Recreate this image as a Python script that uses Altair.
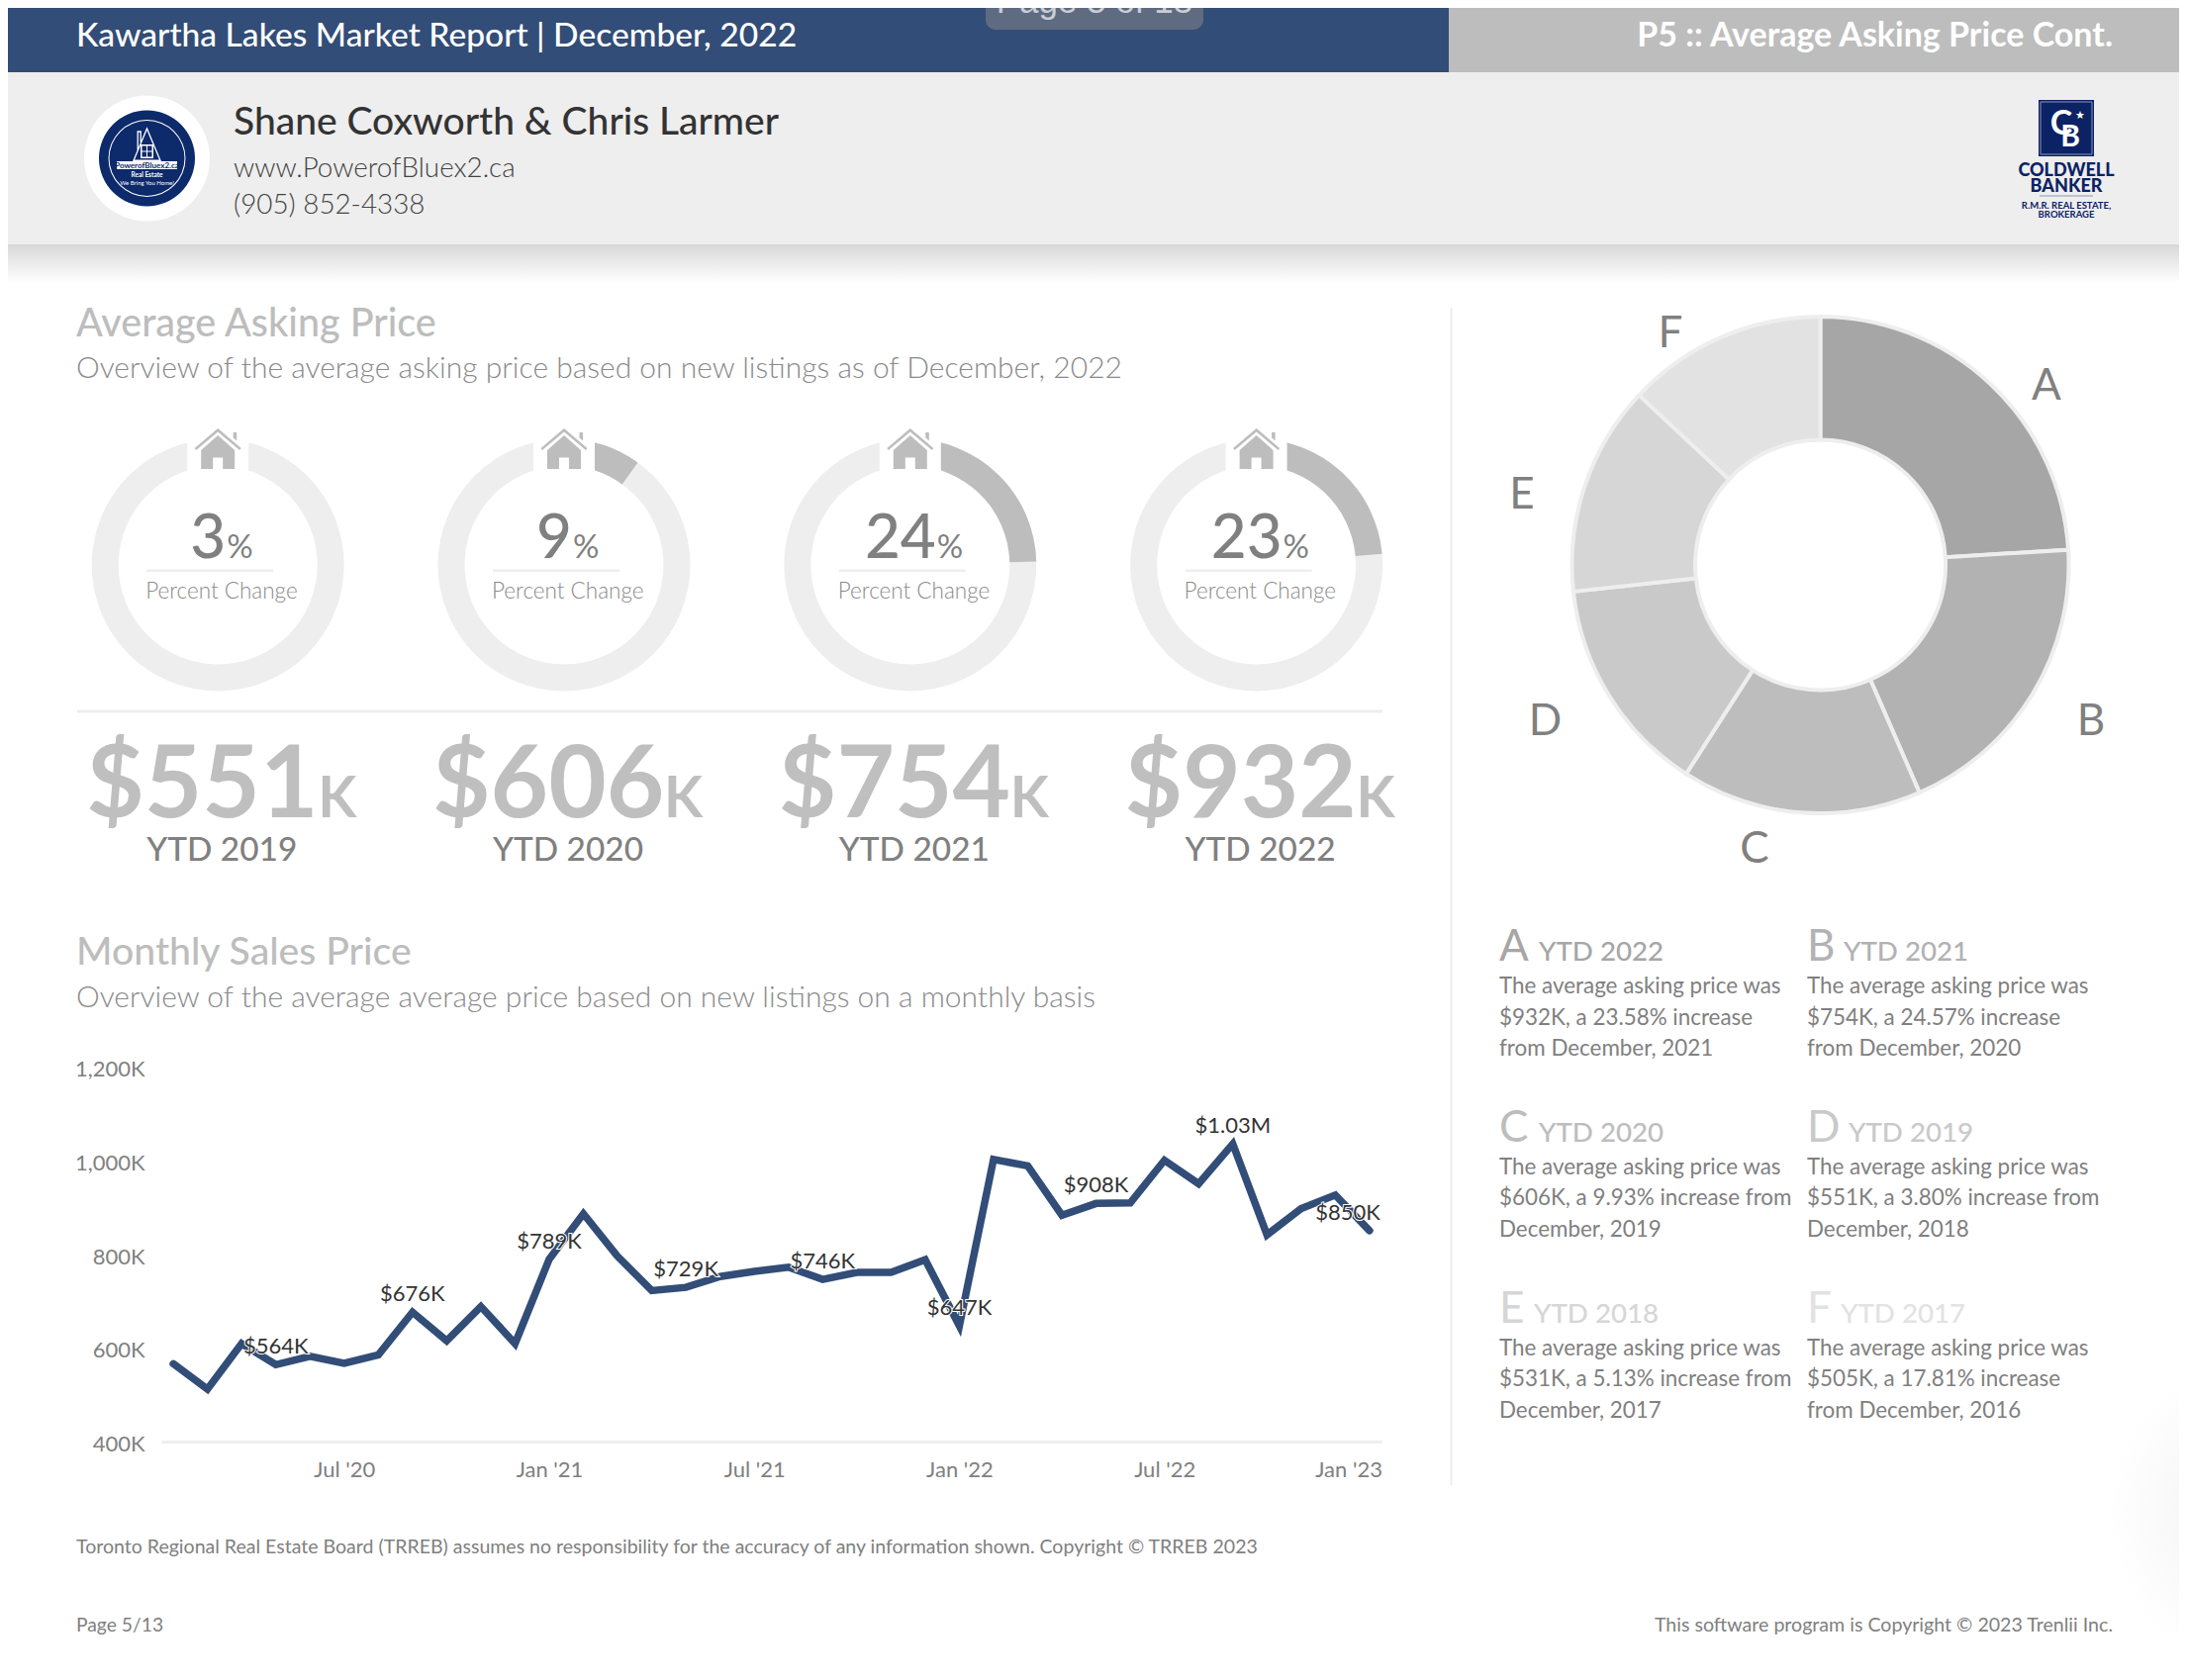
import altair as alt

W, H = 2194, 1682
FONT = "Lato"
NAVY = "#324d77"
GREY = "#808080"
LIGHT = "#eeeeee"
MID = "#bdbdbd"

# ---- data -------------------------------------------------------------
months = ["Feb '20","Mar '20","Apr '20","May '20","Jun '20","Jul '20","Aug '20","Sep '20","Oct '20","Nov '20","Dec '20",
          "Jan '21","Feb '21","Mar '21","Apr '21","May '21","Jun '21","Jul '21","Aug '21","Sep '21","Oct '21","Nov '21","Dec '21",
          "Jan '22","Feb '22","Mar '22","Apr '22","May '22","Jun '22","Jul '22","Aug '22","Sep '22","Oct '22","Nov '22","Dec '22",
          "Jan '23"]
monthly = [566,512,609,564,582,567,585,676,615,688,609,789,886,795,722,729,752,763,772,746,761,761,788,647,
           1002,988,883,908,909,1000,950,1035,841,897,926,850]
month_ticks = ["Jul '20","Jan '21","Jul '21","Jan '22","Jul '22","Jan '23"]
value_ticks = [400,600,800,1000,1200]
labelled = {"May '20":"$564K","Sep '20":"$676K","Jan '21":"$789K","May '21":"$729K","Sep '21":"$746K",
            "Jan '22":"$647K","May '22":"$908K","Sep '22":"$1.03M"}
last_label = {"Jan '23":"$850K"}

years = ["YTD 2019","YTD 2020","YTD 2021","YTD 2022"]
prices = ["$551","$606","$754","$932"]
changes = [3.80,9.93,24.57,23.58]
change_labels = ["3","9","24","23"]

slices = ["A","B","C","D","E","F"]
slice_values = [932,754,606,551,531,505]
slice_colors = ["#a6a6a6","#b2b2b2","#bdbdbd","#c9c9c9","#d6d6d6","#e2e2e2"]
slice_years = ["YTD 2022","YTD 2021","YTD 2020","YTD 2019","YTD 2018","YTD 2017"]
slice_text = [
    ["The average asking price was","$932K, a 23.58% increase","from December, 2021"],
    ["The average asking price was","$754K, a 24.57% increase","from December, 2020"],
    ["The average asking price was","$606K, a 9.93% increase from","December, 2019"],
    ["The average asking price was","$551K, a 3.80% increase from","December, 2018"],
    ["The average asking price was","$531K, a 5.13% increase from","December, 2017"],
    ["The average asking price was","$505K, a 17.81% increase","from December, 2016"],
]

# ---- helpers (coordinates below are reference pixels; page margin is 8) --
one = alt.Data(values=[{"k": 1}])
M = 8
layers = []

def T(x, y, s, size, color=GREY, align="left", weight=400, font=FONT, base="alphabetic", angle=None):
    kw = dict(font=font, fontSize=size, color=color, align=align, fontWeight=weight, baseline=base)
    if angle is not None:
        kw["angle"] = angle
    layers.append(alt.Chart(one).mark_text(**kw).encode(
        x=alt.value(x - M), y=alt.value(y - M), text=alt.value(s)))

def R(x1, y1, x2, y2, color, **kw):
    args = dict(kw)
    if isinstance(color, dict):
        args["fill"] = color
    else:
        args["color"] = color
    layers.append(alt.Chart(one).mark_rect(**args).encode(
        x=alt.value(x1 - M), x2=alt.value(x2 - M), y=alt.value(y1 - M), y2=alt.value(y2 - M)))

def disc(cx, cy, r, color, r0=0):
    layers.append(alt.Chart(one).mark_arc(color=color, radius=r, radius2=r0, theta=0, theta2=6.28319).encode(
        x=alt.value(cx - M), y=alt.value(cy - M)))

def shape(cx, cy, extent, path, fill=None, stroke=None, sw=1):
    kw = dict(shape=path, size=extent * extent, opacity=1)
    if fill:
        kw.update(filled=True, fill=fill, strokeOpacity=0)
    else:
        kw.update(filled=False, stroke=stroke, strokeWidth=sw, fillOpacity=0)
    layers.append(alt.Chart(one).mark_point(**kw).encode(x=alt.value(cx - M), y=alt.value(cy - M)))

def path(polys, s):
    out = []
    for poly in polys:
        out.append("M" + "L".join(f"{px / s:.3f},{py / s:.3f}" for px, py in poly) + "Z")
    return "".join(out)

# ---- page shadow at lower right ---------------------------------------------
R(2060, 1370, 2204, 1690, {"gradient": "radial", "x1": 1, "y1": 0.5, "r1": 0, "x2": 1, "y2": 0.5, "r2": 0.5,
                           "stops": [{"offset": 0, "color": "#eeeeee"}, {"offset": 0.45, "color": "#f6f6f6"},
                                     {"offset": 1, "color": "#ffffff"}]})

# ---- header ---------------------------------------------------------------
R(0, 0, 1464, 73, NAVY)
R(1464, 0, 2210, 73, MID)
R(996, 0, 1216, 30, "#5f6b80", cornerRadiusBottomLeft=10, cornerRadiusBottomRight=10)
T(1106, 13, "Page 5 of 13", 35, "#c9ced6", "center", font="Liberation Sans")
T(77, 47, "Kawartha Lakes Market Report | December, 2022", 33.6, "#ffffff", weight=500)
T(2135, 47, "P5 :: Average Asking Price Cont.", 34, "#ffffff", "right", weight=700)

R(0, 73, 2210, 247, LIGHT)
R(0, 247, 2210, 286, {"gradient": "linear", "x1": 0, "y1": 0, "x2": 0, "y2": 1,
                       "stops": [{"offset": 0, "color": "#d8d8d8"}, {"offset": 1, "color": "#ffffff"}]})

# agent logo
disc(148.5, 160, 63.5, "#ffffff")
disc(148.5, 160, 48.5, "#0d2a6b")
disc(148.5, 160, 39, "#ffffff", 38)
shape(148.5, 148, 30, "M0,-1.2L0.9,0.95L-0.9,0.95ZM-0.62,0.3L-0.62,-1L-0.42,-1L-0.42,-0.3", stroke="#ffffff", sw=1.3)
R(142, 146, 155, 160, "#ffffff")
R(143.5, 147.5, 148, 152.5, "#0d2a6b")
R(149, 147.5, 153.5, 152.5, "#0d2a6b")
R(143.5, 153.5, 148, 158.5, "#0d2a6b")
R(149, 153.5, 153.5, 158.5, "#0d2a6b")
R(118, 163, 179, 171, "#ffffff")
T(148.5, 170, "PowerofBluex2.ca", 8, "#0d2a6b", "center", 700)
T(148.5, 179, "Real Estate", 6.5, "#ffffff", "center", 700)
T(148.5, 187, "We Bring You Home!", 6, "#ffffff", "center")

T(236, 136, "Shane Coxworth & Chris Larmer", 39, "#333333", weight=500)
T(236, 179, "www.PowerofBluex2.ca", 27.8, "#444444", weight=300)
T(236, 216, "(905) 852-4338", 27.8, "#444444", weight=300)

# brokerage logo
R(2060, 101, 2116, 158, "#0b2265")
R(2062, 103, 2114, 156, "#0b2265", stroke="#8a96b8", strokeWidth=1)
T(2083, 136, "C", 34, "#ffffff", "center", 700)
T(2092, 148, "B", 30, "#ffffff", "center", 700)
T(2102, 120, "★", 11, "#ffffff", "center", font="DejaVu Sans")
T(2088, 178, "COLDWELL", 18, "#0b2265", "center", 900)
T(2088, 194, "BANKER", 18, "#0b2265", "center", 900)
R(2061, 197.5, 2115, 198.5, "#8a96b8")
T(2088, 211, "R.M.R. REAL ESTATE,", 9.5, "#0b2265", "center", 700)
T(2088, 220, "BROKERAGE", 9.5, "#0b2265", "center", 700)

# ---- section 1 -------------------------------------------------------------
T(77, 340, "Average Asking Price", 39.5, MID, weight=500)
T(77, 382, "Overview of the average asking price based on new listings as of December, 2022", 30, "#8a8a8a", weight=300)

house = path([
    [(0, -20.5), (23.5, -0.5), (22, 1.5), (0, -17), (-22, 1.5), (-23.5, -0.5)],
    [(0, -13.5), (17, 1.5), (17, 20.5), (5, 20.5), (5, 9), (-5, 9), (-5, 20.5), (-17, 20.5), (-17, 1.5)],
    [(15.5, -16.5), (19, -16.5), (19, -8), (15.5, -11)],
], 24)

for i, (yr, pr, ch, cl) in enumerate(zip(years, prices, changes, change_labels)):
    c = 220.2 + 349.8 * i
    cy = 571
    disc(c, cy, 127.5, LIGHT, 100.5)
    ring = alt.Data(values=[{"year": yr, "change": ch}])
    layers.append(alt.Chart(ring).mark_arc(color=MID, radius=127.5, radius2=100.5).encode(
        theta=alt.Theta("change:Q", scale=alt.Scale(domain=[0, 100], range=[0, 6.28319])),
        x=alt.value(c - M), y=alt.value(cy - M)))
    R(c - 31, 436, c + 31, 476, "#ffffff")
    shape(c, 453.5, 48, house, fill=MID)
    b = c + 8 + 18 * (len(cl) - 1)
    T(b, 564, cl, 62, GREY, "right", 500)
    T(b + 1, 564, "%", 33, GREY, "left", 400)
    R(c - 72, 575.5, c + 56, 578, LIGHT)
    T(c - 73, 605, "Percent Change", 22.5, "#8a8a8a", weight=300)
    T(c - 133, 826, pr, 101, "#bfbfbf", weight=700)
    T(c + 101, 826, "K", 57, "#bfbfbf", weight=700)
    T(c + 4, 870, yr, 33.4, GREY, "center", 500)

R(78, 717.5, 1397, 720.5, LIGHT)

# ---- section 2 -------------------------------------------------------------
T(77, 975, "Monthly Sales Price", 39.2, MID, weight=500)
T(77, 1018, "Overview of the average average price based on new listings on a monthly basis", 30, "#8a8a8a", weight=300)

X_RANGE = [163 - M, 1396 - M]
Y_RANGE = [1457 - M, 1078 - M]
xs = alt.Scale(type="point", domain=months, range=X_RANGE, padding=0.35)
ys = alt.Scale(domain=[400, 1200], range=Y_RANGE)

line_df = alt.Data(values=[{"m": m, "v": v} for m, v in zip(months, monthly)])
layers.append(alt.Chart(line_df).mark_line(color=NAVY, strokeWidth=7.5, strokeCap="round", strokeJoin="miter").encode(
    x=alt.X("m:N", scale=xs, sort=None, title=None, axis=alt.Axis(
        values=month_ticks, labelAngle=0, ticks=False, grid=False, domainColor=LIGHT, domainWidth=3,
        labelFont=FONT, labelFontSize=22, labelColor=GREY, labelPadding=18, labelFlush=20, labelFlushOffset=12.5,
        offset=-(H - (1457 - M)))),
    y=alt.Y("v:Q", scale=ys, title=None, axis=alt.Axis(
        values=value_ticks, labelExpr="format(datum.value, ',') + 'K'", ticks=False, grid=False, domain=False,
        labelFont=FONT, labelFontSize=22, labelColor=GREY, labelPadding=0, labelOffset=2.5,
        offset=-(146 - M), labelBaseline="middle"))))

def label_layers(lbls, **kw):
    rows = [{"m": m, "v": monthly[months.index(m)], "t": t} for m, t in lbls.items()]
    base = alt.Chart(alt.Data(values=rows))
    enc = dict(x=alt.X("m:N", scale=xs, sort=None, axis=None), y=alt.Y("v:Q", scale=ys, axis=None), text="t:N")
    common = dict(font=FONT, fontSize=22, baseline="middle", dy=-18, **kw)
    layers.append(base.mark_text(color="#ffffff", stroke="#ffffff", strokeWidth=2, **common).encode(**enc))
    layers.append(base.mark_text(color="#333333", **common).encode(**enc))

label_layers(labelled, align="center")
label_layers(last_label, align="right", dx=11)

# ---- right column ----------------------------------------------------------
R(1465.5, 311, 1467.5, 1501, LIGHT)

donut = alt.Data(values=[{"s": s, "v": v, "o": i} for i, (s, v) in enumerate(zip(slices, slice_values))])
layers.append(alt.Chart(donut).mark_arc(radius=251, radius2=126.5, stroke=LIGHT, strokeWidth=4).encode(
    theta=alt.Theta("v:Q", stack=True),
    order=alt.Order("o:Q"),
    color=alt.Color("s:N", scale=alt.Scale(domain=slices, range=slice_colors), legend=None),
    x=alt.value(1839.5 - M), y=alt.value(571 - M)))

for s, (lx, ly) in zip(slices, [(2068, 404), (2113, 742.5), (1773, 871.5), (1561.5, 742.5), (1538, 514), (1688, 351)]):
    T(lx, ly, s, 44, GREY, "center")

ytd_x = [1555, 1863, 1555, 1868, 1550, 1860]
cols = [1515, 1826]
rows_y = [(971, [1004, 1036, 1067.4]), (1154.3, [1186.5, 1218.3, 1249.8]), (1336.7, [1369.5, 1401.4, 1433])]
for i, s in enumerate(slices):
    col = cols[i % 2]
    base_y, body_y = rows_y[i // 2]
    T(col, base_y, s, 44, slice_colors[i])
    T(ytd_x[i], base_y, slice_years[i], 27.7, slice_colors[i], weight=500)
    for yy, line in zip(body_y, slice_text[i]):
        T(col, yy, line, 22.4, "#808080")

# ---- footer ----------------------------------------------------------------
T(77, 1569.5, "Toronto Regional Real Estate Board (TRREB) assumes no responsibility for the accuracy of any information shown. Copyright © TRREB 2023", 19.55, GREY)
T(77, 1648.5, "Page 5/13", 19.3, GREY)
T(2135, 1648.5, "This software program is Copyright © 2023 Trenlii Inc.", 19.6, GREY, "right")

chart = alt.layer(*layers).resolve_scale(
    x="independent", y="independent", theta="independent", color="independent"
).properties(
    width=W, height=H, padding=0, autosize=alt.AutoSizeParams(type="none"), background="#ffffff"
).configure_view(stroke=None)

chart.save("out.html", embed_options={"renderer": "svg", "actions": False})
